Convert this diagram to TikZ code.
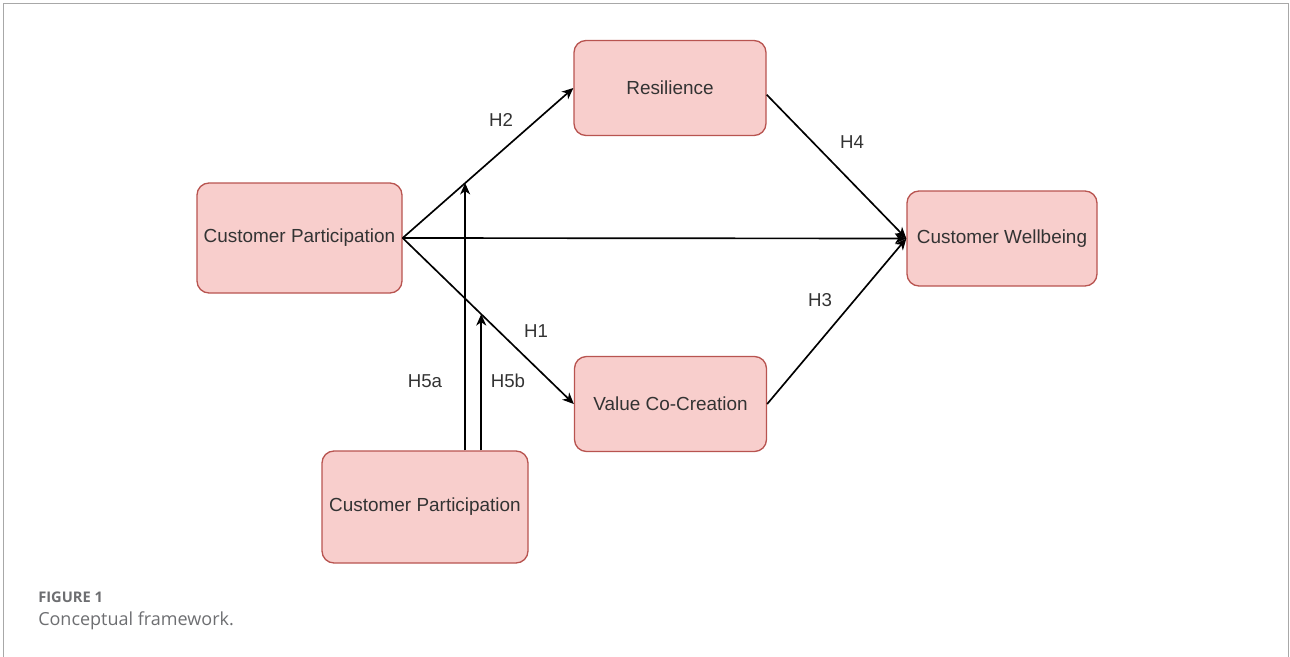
\documentclass[tikz,border=0pt]{standalone}
\usepackage{fontspec}
\setmainfont{Liberation Sans}
\newfontfamily\capfont{Open Sans}
\usetikzlibrary{arrows.meta}
\definecolor{boxfill}{HTML}{F8CECC}
\definecolor{boxline}{HTML}{B85450}
\definecolor{framecol}{HTML}{A8A8A8}
\definecolor{captext}{HTML}{6D6E71}
\definecolor{txt}{HTML}{333333}
\begin{document}
\begin{tikzpicture}[x=0.75pt,y=-0.75pt,
  box/.style={draw=boxline, fill=boxfill, rounded corners=9pt, line width=1pt,
    inner sep=0pt, font=\fontsize{14.2}{17}\selectfont, text=txt},
  conn/.style={line width=1.25pt, -{Stealth[length=8.5pt,width=7.5pt,inset=2.5pt]}},
  lbl/.style={font=\fontsize{14}{16}\selectfont, text=txt}]
\useasboundingbox (0,0) rectangle (1290,657);
\draw[framecol, line width=1pt] (3.5,657) -- (3.5,3.5) -- (1288.5,3.5) -- (1288.5,657);

\node[box, minimum width=144pt, minimum height=71.25pt] (res) at (670,88) {Resilience};
\node[box, minimum width=153.75pt, minimum height=82.5pt] (cpl) at (299.5,238) {Customer Participation};
\node[box, minimum width=142.5pt, minimum height=71.25pt] (cw) at (1002,238.5) {Customer Wellbeing};
\node[box, minimum width=144pt, minimum height=71.25pt] (vcc) at (670.5,404) {Value Co-Creation};
\node[box, minimum width=154.5pt, minimum height=84pt] (cpb) at (425,507) {Customer Participation};

\draw[conn] (cpl.east) -- (res.west) coordinate[pos=0.366] (m2);
\draw[conn] (cpl.east) -- (cw.west);
\draw[conn] (cpl.east) -- (vcc.west) coordinate[pos=0.459] (m1);
\draw[conn] ([yshift=-5pt]res.east) -- (cw.west);
\draw[conn] (vcc.east) -- (cw.west);
\draw[conn] (cpb.north -| m2) -- (m2);
\draw[conn] (cpb.north -| m1) -- (m1);

\node[lbl] (h2) at (501,120) {H2};
\node[lbl] (h1) at (536,331) {H1};
\node[lbl] (h4) at (852,142) {H4};
\node[lbl] (h3) at (820,300) {H3};
\node[lbl] (h5a) at (425,381) {H5a};
\node[lbl] (h5b) at (508,381) {H5b};

\node[anchor=base west, inner sep=0pt, text=captext, font=\capfont\bfseries\fontsize{11}{12}\selectfont] (fig) at (38,602) {FIGURE 1};
\node[anchor=base west, inner sep=0pt, text=captext, font=\capfont\fontsize{13.5}{16}\selectfont] (cap) at (38,625) {Conceptual framework.};
\end{tikzpicture}
\end{document}
